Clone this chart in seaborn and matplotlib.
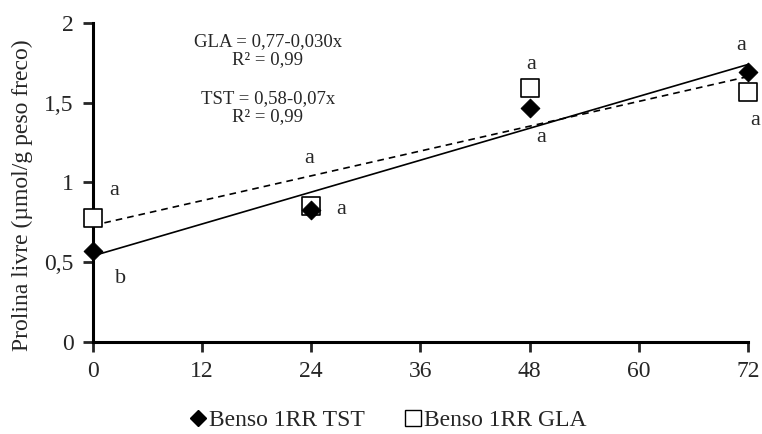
import numpy as np
import pandas as pd
import matplotlib
matplotlib.use("Agg")
import matplotlib.pyplot as plt
import seaborn as sns
from matplotlib.lines import Line2D

# data
hours = [0, 24, 48, 72]
tst_values = [0.57, 0.83, 1.47, 1.69]
gla_values = [0.78, 0.85, 1.59, 1.57]
x_ticks = [0, 12, 24, 36, 48, 60, 72]
y_ticks = [0, 0.5, 1, 1.5, 2]
y_tick_labels = ["0", "0,5", "1", "1,5", "2"]
series_names = ["Benso 1RR TST", "Benso 1RR GLA"]
letters = [  # (x, y, text)
    (2.3, 0.95, "a"), (3.0, 0.40, "b"),
    (23.8, 1.15, "a"), (27.3, 0.83, "a"),
    (48.2, 1.74, "a"), (49.3, 1.28, "a"),
    (71.2, 1.86, "a"), (72.8, 1.39, "a"),
]
equations = [
    (19.2, 1.884, "GLA = 0,77-0,030x"),
    (19.2, 1.772, "R² = 0,99"),
    (19.2, 1.527, "TST = 0,58-0,07x"),
    (19.2, 1.415, "R² = 0,99"),
]

sns.set_style("white")
plt.rcParams["font.family"] = ["Liberation Serif", "DejaVu Serif"]

df = pd.DataFrame({"h": hours, "tst": tst_values, "gla": gla_values})

fig = plt.figure(figsize=(7.62, 4.34), dpi=100)
ax = fig.add_axes([0.122, 0.212, 0.8596, 0.735])

sns.regplot(data=df, x="h", y="tst", ax=ax, ci=None, scatter=False,
            line_kws=dict(color="black", lw=1.2, ls="-", clip_on=False), truncate=True)
sns.regplot(data=df, x="h", y="gla", ax=ax, ci=None, scatter=False,
            line_kws=dict(color="black", lw=1.2, ls=(0, (4, 3)), clip_on=False), truncate=True)

sns.scatterplot(data=df, x="h", y="gla", ax=ax, marker="s", s=150,
                facecolor="white", edgecolor="black", linewidth=1.2, clip_on=False, zorder=3)
sns.scatterplot(data=df, x="h", y="tst", ax=ax, marker="D", s=90,
                color="black", edgecolor="black", clip_on=False, zorder=4)

ax.set_xlim(0, 72)
ax.set_ylim(0, 2)
ax.set_xticks(x_ticks)
ax.set_xticklabels([str(t) for t in x_ticks])
ax.set_yticks(y_ticks)
ax.set_yticklabels(y_tick_labels)
ax.tick_params(axis="both", labelsize=17, length=7, width=2, direction="out",
               left=True, bottom=True, pad=7)
for s in ["top", "right"]:
    ax.spines[s].set_visible(False)
for s in ["left", "bottom"]:
    ax.spines[s].set_linewidth(2.2)
    ax.spines[s].set_color("black")
ax.set_xlabel("")
ax.set_ylabel("Prolina livre (µmol/g peso freco)", fontsize=17)
ax.yaxis.set_label_coords(-0.091, 0.46)

for x, y, t in letters:
    ax.text(x, y, t, fontsize=16, ha="center", va="center")
for x, y, t in equations:
    ax.text(x, y, t, fontsize=13.5, ha="center", va="center")

handles = [
    Line2D([], [], marker="D", color="black", ls="none", markersize=8),
    Line2D([], [], marker="s", markerfacecolor="white", markeredgecolor="black",
           ls="none", markersize=11),
]
fig.legend(handles, series_names, loc="center", bbox_to_anchor=(0.508, 0.032),
           ncol=2, frameon=False, fontsize=17, handletextpad=0.0,
           columnspacing=1.6, handlelength=0.9)

fig.savefig("out.png", dpi=100)
